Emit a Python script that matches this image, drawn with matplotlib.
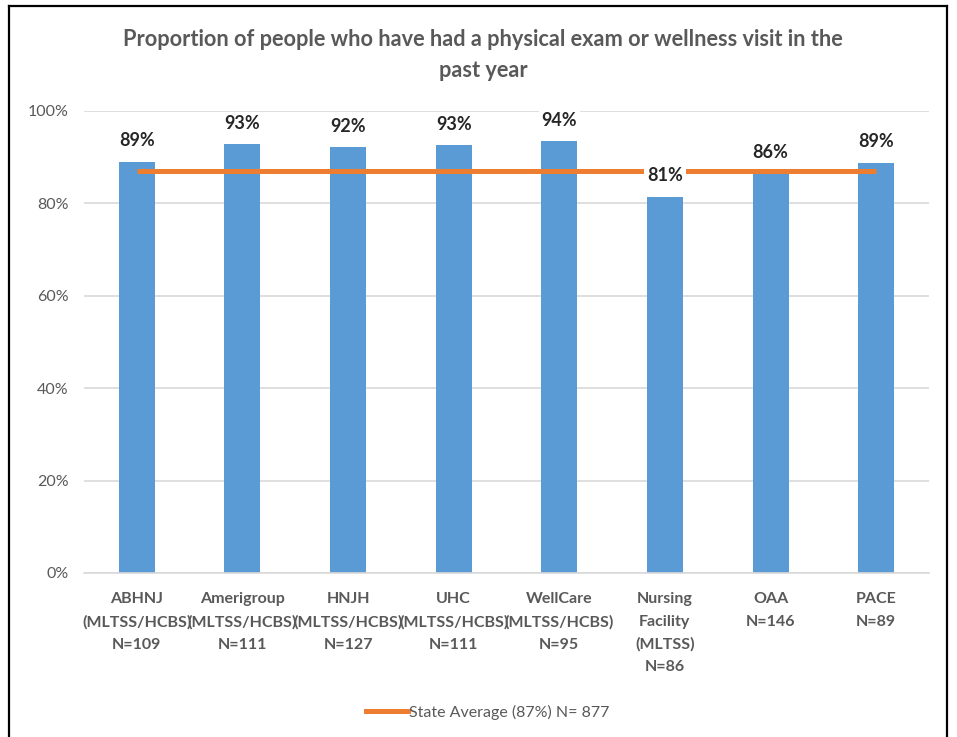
import matplotlib
matplotlib.use("Agg")
import matplotlib.pyplot as plt
from matplotlib.lines import Line2D

plt.rcParams['font.family'] = ['Lato', 'DejaVu Sans']

categories = ["ABHNJ\n(MLTSS/HCBS)\nN=109", "Amerigroup\n(MLTSS/HCBS)\nN=111",
              "HNJH\n(MLTSS/HCBS)\nN=127", "UHC\n(MLTSS/HCBS)\nN=111",
              "WellCare\n(MLTSS/HCBS)\nN=95", "Nursing\nFacility\n(MLTSS)\nN=86",
              "OAA\nN=146", "PACE\nN=89"]
values = [89.0, 92.8, 92.2, 92.6, 93.5, 81.4, 86.5, 88.8]
labels = ["89%", "93%", "92%", "93%", "94%", "81%", "86%", "89%"]
state_avg = [87, 87, 87, 87, 87, 87, 87, 87]
yticks = [0, 20, 40, 60, 80, 100]
ytick_labels = ["0%", "20%", "40%", "60%", "80%", "100%"]
title = "Proportion of people who have had a physical exam or wellness visit in the\npast year"
legend_label = "State Average (87%) N= 877"

W, H = 957, 737
fig = plt.figure(figsize=(W / 100, H / 100), dpi=100)
fig.patch.set_facecolor("white")

# axes: left 84, right 929, top (100%) 111, bottom (0%) 573
ax = fig.add_axes([84 / W, 1 - 573 / H, (929 - 84) / W, (573 - 111) / H])
x = list(range(len(categories)))
ax.bar(x, values, width=0.34, color="#5B9BD5", zorder=2)
ax.plot(x, state_avg, color="#ED7D31", lw=3.6, zorder=3, solid_capstyle="butt",
        label=legend_label)
for xi, v, lab in zip(x, values, labels):
    ax.annotate(lab, (xi, v), xytext=(0, 21), textcoords="offset pixels",
                ha="center", va="center", fontsize=13, fontweight="bold",
                color="#262626", zorder=5,
                bbox=dict(boxstyle="square,pad=0.15", fc="white", ec="none"))

ax.set_xlim(-0.5, len(categories) - 0.5)
ax.set_ylim(0, 100)
ax.set_yticks(yticks)
ax.set_yticklabels(ytick_labels, fontsize=11.5, color="#595959")
ax.set_xticks(x)
ax.set_xticklabels(categories, fontsize=11.5, fontweight="bold", color="#595959",
                   linespacing=1.75)
ax.tick_params(axis="both", length=0)
ax.tick_params(axis="y", pad=11)
ax.tick_params(axis="x", pad=14)
ax.grid(axis="y", color="#D9D9D9", lw=1.2, zorder=0)
ax.set_axisbelow(True)
for s in ["top", "right", "left"]:
    ax.spines[s].set_visible(False)
ax.spines["bottom"].set_color("#D9D9D9")
ax.spines["bottom"].set_linewidth(1.2)

fig.text(483 / W, 1 - 55 / H, title, ha="center", va="center", fontsize=15.7,
         fontweight="bold", color="#595959", linespacing=1.6)

leg = fig.legend(handles=[Line2D([0], [0], color="#ED7D31", lw=3.6)],
                 labels=[legend_label], loc="center", bbox_to_anchor=(488 / W, 1 - 712 / H),
                 frameon=False, fontsize=11.5, handlelength=2.6, handletextpad=0.1)
for t in leg.get_texts():
    t.set_color("#595959")

# outer frame (left, top, right)
fx0, fx1, fy0 = 9 / W, 947 / W, 1 - 6 / H
fig.add_artist(Line2D([fx0, fx0], [0, fy0], color="black", lw=1.6, transform=fig.transFigure))
fig.add_artist(Line2D([fx1, fx1], [0, fy0], color="black", lw=1.6, transform=fig.transFigure))
fig.add_artist(Line2D([fx0, fx1], [fy0, fy0], color="black", lw=1.6, transform=fig.transFigure))

fig.savefig("out.png", dpi=100, facecolor="white")
